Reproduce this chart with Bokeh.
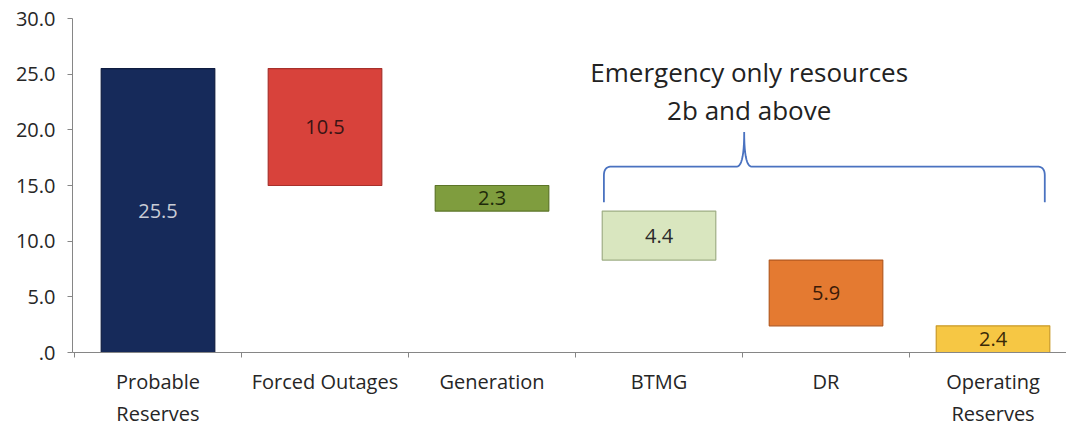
from bokeh.plotting import figure
from bokeh.models import FixedTicker, Range1d, ColumnDataSource
from bokeh.core.properties import value
from bokeh.embed import file_html
from bokeh.resources import INLINE
import numpy as np

categories = ["Probable Reserves", "Forced Outages", "Generation", "BTMG", "DR", "Operating Reserves"]
tick_labels = ["Probable\nReserves", "Forced Outages", "Generation", "BTMG", "DR", "Operating\nReserves"]
values = [25.5, 10.5, 2.3, 4.4, 5.9, 2.4]
colors = ["#162a5a", "#d8423b", "#7f9d3e", "#d9e6bf", "#e47a31", "#f6c744"]
edge_colors = ["#0e1c40", "#a8302b", "#5c7528", "#9fae85", "#b45a20", "#c99a28"]
label_colors = ["#c9ccd6", "#3a1414", "#1e2a0a", "#2a2a2a", "#3a1a08", "#3a2a08"]
y_ticks = [0, 5, 10, 15, 20, 25, 30]
y_tick_labels = [".0", "5.0", "10.0", "15.0", "20.0", "25.0", "30.0"]
annotation_lines = ["Emergency only resources", "2b and above"]

# waterfall geometry
xs = [i + 0.5 for i in range(len(categories))]
tops, bottoms = [], []
running = 0.0
for i, v in enumerate(values):
    if i == 0:
        bottoms.append(0.0)
        tops.append(v)
        running = v
    else:
        tops.append(running)
        running = round(running - v, 3)
        bottoms.append(max(running, 0.0))
mids = [(t + b) / 2 for t, b in zip(tops, bottoms)]

src = ColumnDataSource(dict(x=xs, top=tops, bottom=bottoms, color=colors, edge=edge_colors,
                            label=[f"{v:.1f}" for v in values], mid=mids, lc=label_colors))

p = figure(width=1066, height=429, output_backend="svg", toolbar_location=None,
           x_range=Range1d(-0.012, 5.94), y_range=Range1d(0, 30),
           min_border_left=72, min_border_right=0, min_border_top=18, min_border_bottom=74)
p.outline_line_color = None
p.xgrid.visible = False
p.ygrid.visible = False
p.background_fill_color = "white"

p.vbar(x="x", top="top", bottom="bottom", width=0.68, fill_color="color",
       line_color="edge", line_width=1.2, source=src)
p.text(x="x", y="mid", text="label", text_color="lc", text_align="center",
       text_baseline="middle", text_font=value("Open Sans"), text_font_size="20px", source=src)

# brace annotation spanning the emergency-only resources
bx0 = xs[3] - 0.33
bx1 = xs[5] + 0.31
bxc = (xs[3] + xs[4]) / 2 + 0.01
by0, byh, byt = 13.5, 16.7, 19.8
dx, dy = 0.045, 0.8

def qb(p0, c, p1, n=12):
    t = np.linspace(0, 1, n)
    x = (1 - t) ** 2 * p0[0] + 2 * (1 - t) * t * c[0] + t ** 2 * p1[0]
    y = (1 - t) ** 2 * p0[1] + 2 * (1 - t) * t * c[1] + t ** 2 * p1[1]
    return list(x), list(y)

px, py = [bx0], [by0]
a, b = qb((bx0, byh - dy), (bx0, byh), (bx0 + dx, byh)); px += a; py += b
a, b = qb((bxc - dx, byh), (bxc, byh), (bxc, byt)); px += a; py += b
a, b = qb((bxc, byt), (bxc, byh), (bxc + dx, byh)); px += a; py += b
a, b = qb((bx1 - dx, byh), (bx1, byh), (bx1, byh - dy)); px += a; py += b
px.append(bx1); py.append(by0)
p.line(px, py, line_color="#4a72c0", line_width=1.8)

p.text(x=[bxc + 0.03] * 2, y=[25.2, 21.8], text=annotation_lines, text_align="center",
       text_baseline="middle", text_color="#222222", text_font=value("Open Sans"),
       text_font_size="26px")

# axes
xa = p.xaxis[0]
xa.ticker = FixedTicker(ticks=xs, minor_ticks=list(range(0, 7)))
xa.major_label_overrides = {x: l for x, l in zip(xs, tick_labels)}
xa.major_tick_line_color = None
xa.minor_tick_line_color = "#868686"
xa.minor_tick_in = 0
xa.minor_tick_out = 5
xa.axis_line_color = "#868686"
xa.major_label_text_font = "Open Sans"
xa.major_label_text_font_size = "20px"
xa.major_label_text_color = "#262626"
xa.major_label_standoff = 9

ya = p.yaxis[0]
ya.ticker = FixedTicker(ticks=y_ticks)
ya.major_label_overrides = {t: l for t, l in zip(y_ticks, y_tick_labels)}
ya.minor_tick_line_color = None
ya.major_tick_line_color = "#868686"
ya.major_tick_in = 0
ya.major_tick_out = 5
ya.axis_line_color = "#868686"
ya.major_label_text_font = "Open Sans"
ya.major_label_text_font_size = "20px"
ya.major_label_text_color = "#262626"
ya.major_label_standoff = 12

open("out.html", "w").write(file_html(p, INLINE))
